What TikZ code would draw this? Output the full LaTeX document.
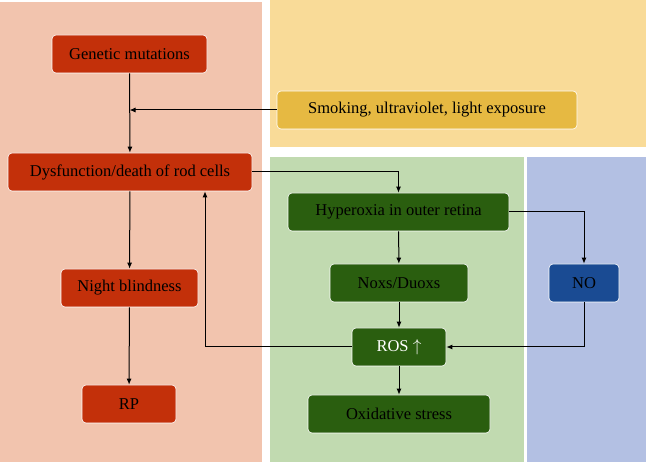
\documentclass[tikz,border=0pt]{standalone}
\usepackage{fontspec}
\setmainfont{Liberation Serif}
\usetikzlibrary{arrows.meta}
\definecolor{pinkbg}{HTML}{F2C4AE}
\definecolor{yellowbg}{HTML}{F9DB98}
\definecolor{greenbg}{HTML}{C1DAB0}
\definecolor{bluebg}{HTML}{B3C0E3}
\definecolor{rednode}{HTML}{C3300A}
\definecolor{yellownode}{HTML}{E6B942}
\definecolor{greennode}{HTML}{2A5E0F}
\definecolor{bluenode}{HTML}{1A4B93}
\tikzset{
  box/.style={rounded corners=4pt,draw=white,line width=0.6pt,minimum height=38pt,inner sep=0pt,font=\fontsize{16.5}{19}\selectfont},
  redbox/.style={box,fill=rednode},
  yellowbox/.style={box,fill=yellownode},
  greenbox/.style={box,fill=greennode},
  bluebox/.style={box,fill=bluenode},
  arr/.style={line width=1pt,-{Latex[length=6pt,width=5pt]}}
}
\begin{document}
\begin{tikzpicture}[x=1pt,y=-1pt]
\useasboundingbox (0,0) rectangle (646,462);
        \fill[pinkbg] (0,2) rectangle (262,462);
        \fill[yellowbg] (270,0) rectangle (646,147);
        \fill[greenbg] (270,157) rectangle (524,462);
        \fill[bluebg] (527,157) rectangle (646,462);
\node (gen) at (129.5,54)[redbox,minimum width=155]{Genetic mutations};
\node (smoke) at (427,110)[yellowbox,minimum width=300]{Smoking, ultraviolet, light exposure};
\node (rod) at (130,172)[redbox,minimum width=244]{Dysfunction/death of rod cells};
\node (night) at (129.5,288)[redbox,minimum width=137]{Night blindness};
\node (rp) at (129,404)[redbox,minimum width=94]{RP};
\node (hyper) at (398.5,212)[greenbox,minimum width=221]{Hyperoxia in outer retina};
\node (nox) at (399,283)[greenbox,minimum width=138]{Noxs/Duoxs};
\node (no) at (584,283)[bluebox,minimum width=70]{NO};
\node (ros) at (399,347)[greenbox,minimum width=94,text=white]{ROS $\uparrow$};
\node (ox) at (399,414)[greenbox,minimum width=182]{Oxidative stress};
\coordinate (join) at (gen.south |- smoke.west);
        \draw[arr] (gen) -- (rod);
        \draw[arr] (smoke.west) -- (join);
        \draw[arr] (rod.east) -| (hyper.north);
        \draw[arr] (rod) -- (night);
        \draw[arr] (night) -- (rp);
        \draw[arr] (ros.west) -| ([xshift=75pt]rod.south);
        \draw[arr] (hyper) -- (nox);
        \draw[arr] (nox) -- (ros);
        \draw[arr] (ros) -- (ox);
        \draw[arr] (hyper.east) -| (no.north);
        \draw[arr] (no.south) |- (ros.east);
\end{tikzpicture}
\end{document}
